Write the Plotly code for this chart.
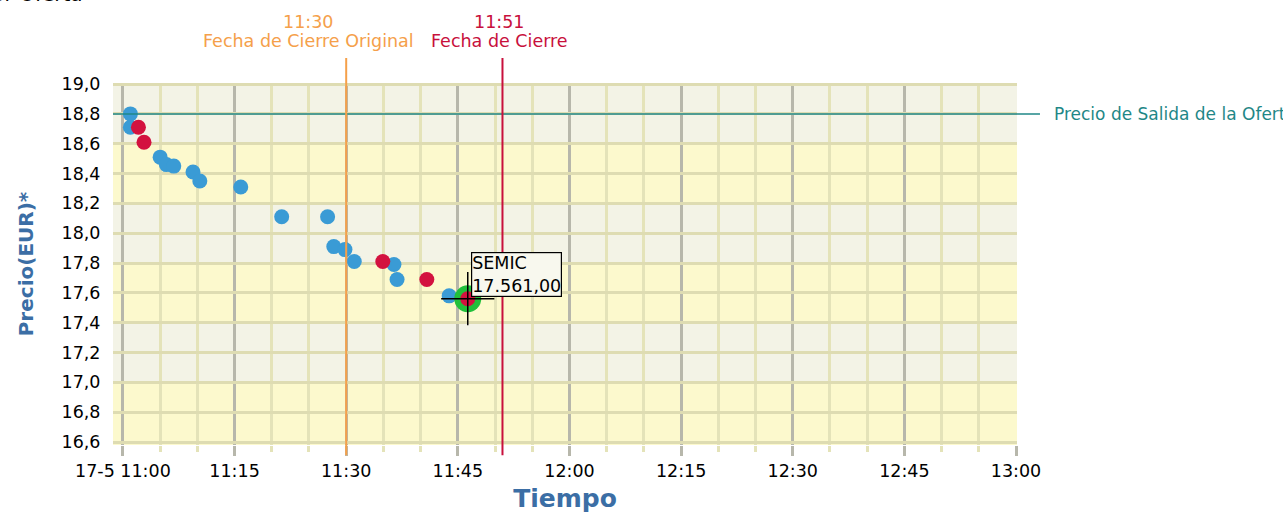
import plotly.graph_objects as go

DATE = "2011-05-17"


def t(s):
    return f"{DATE} {s}"


# ---------------- data ----------------
blue_times = ["11:01:00", "11:01:00", "11:05:00", "11:05:50", "11:06:50", "11:09:25",
              "11:10:20", "11:15:50", "11:21:20", "11:27:30", "11:28:20", "11:29:50",
              "11:31:05", "11:36:25", "11:36:50", "11:43:50"]
blue_prices = [18.80, 18.71, 18.51, 18.46, 18.45, 18.41, 18.35, 18.31, 18.11, 18.11,
               17.91, 17.89, 17.81, 17.79, 17.69, 17.58]

red_times = ["11:02:05", "11:02:50", "11:34:55", "11:40:50"]
red_prices = [18.71, 18.61, 17.81, 17.69]

highlight_time = "11:46:20"
highlight_price = 17.561
highlight_name = "SEMIC"
highlight_value_text = "17.561,00"

start_price = 18.8
start_price_label = "Precio de Salida de la Oferta"

orig_close_time = "11:30"
orig_close_label = "Fecha de Cierre Original"
close_time = "11:51"
close_label = "Fecha de Cierre"

x_tick_times = ["11:00", "11:15", "11:30", "11:45", "12:00", "12:15", "12:30", "12:45", "13:00"]
x_tick_text = ["17-5 11:00", "11:15", "11:30", "11:45", "12:00", "12:15", "12:30", "12:45", "13:00"]
y_ticks = [16.6, 16.8, 17.0, 17.2, 17.4, 17.6, 17.8, 18.0, 18.2, 18.4, 18.6, 18.8, 19.0]
yellow_bands = [(18.2, 18.6), (17.4, 17.8), (16.5, 17.0)]

# ---------------- styles ----------------
FONT = "DejaVu Sans"
BLUE = "#3a9bd5"
RED = "#d3123f"
ORANGE = "#f5a04a"
CRIMSON = "#c8103c"
TEAL = "#1f8787"
TITLE_BLUE = "#3b6ea5"
BG_LIGHT = "#f3f3e6"
BG_YELLOW = "#fcf9cd"
FS = 17.5

fig = go.Figure()

fig.add_trace(go.Scatter(
    x=[t(s) for s in blue_times], y=blue_prices, mode="markers",
    marker=dict(size=15, color=BLUE), showlegend=False, hoverinfo="skip"))
fig.add_trace(go.Scatter(
    x=[t(s) for s in red_times], y=red_prices, mode="markers",
    marker=dict(size=15, color=RED), showlegend=False, hoverinfo="skip"))
fig.add_trace(go.Scatter(
    x=[t(highlight_time)], y=[highlight_price], mode="markers",
    marker=dict(size=27, color="#21c03a"), showlegend=False, hoverinfo="skip"))
fig.add_trace(go.Scatter(
    x=[t(highlight_time)], y=[highlight_price], mode="markers",
    marker=dict(size=15, color=RED), showlegend=False, hoverinfo="skip"))
fig.add_trace(go.Scatter(
    x=[t(highlight_time)], y=[highlight_price], mode="markers",
    marker=dict(size=38, symbol="cross-thin", line=dict(color="black", width=1.5)),
    showlegend=False, hoverinfo="skip"))

# background bands
for y0, y1 in yellow_bands:
    fig.add_shape(type="rect", xref="paper", x0=0, x1=1, y0=y0, y1=y1,
                  fillcolor=BG_YELLOW, line_width=0, layer="below")

# start price line
fig.add_shape(type="line", xref="paper", x0=0, x1=1.0254, y0=start_price, y1=start_price,
              line=dict(color=TEAL, width=1.5), layer="above")
fig.add_annotation(xref="paper", x=1.0387, y=start_price, text=start_price_label,
                   showarrow=False, xanchor="left", yanchor="middle",
                   font=dict(family=FONT, size=17, color=TEAL))

# event lines
for tm, col in [(orig_close_time, ORANGE), (close_time, CRIMSON)]:
    fig.add_shape(type="line", x0=t(tm), x1=t(tm), yref="paper", y0=-0.028, y1=1.069,
                  line=dict(color=col, width=2), layer="above")

for tm, lab, col, dx in [(orig_close_time, orig_close_label, ORANGE, -38),
                         (close_time, close_label, CRIMSON, -3)]:
    fig.add_annotation(x=t(tm), xshift=dx, yref="paper", y=1.1685, text=tm,
                       showarrow=False, xanchor="center", yanchor="middle",
                       font=dict(family=FONT, size=FS, color=col))
    fig.add_annotation(x=t(tm), xshift=dx, yref="paper", y=1.116, text=lab,
                       showarrow=False, xanchor="center", yanchor="middle",
                       font=dict(family=FONT, size=FS, color=col))

# tooltip
fig.add_annotation(x=t(highlight_time), y=highlight_price, xshift=3, yshift=2,
                   text=f"{highlight_name}<br>{highlight_value_text}", showarrow=False,
                   xanchor="left", yanchor="bottom", align="left",
                   bgcolor="#f8f8ee", bordercolor="black", borderwidth=1.2, borderpad=0,
                   font=dict(family=FONT, size=FS, color="black"))

# chart title at the top-left (cut off at the page edge, as in the original)
fig.add_annotation(xref="paper", yref="paper", x=-0.031, y=1.246,
                   text="Evolución del Precio por Oferta", showarrow=False,
                   xanchor="right", yanchor="middle",
                   font=dict(family=FONT, size=20, color="black"))

fig.update_layout(
    width=1283, height=513,
    margin=dict(l=113, r=266, t=83, b=68),
    paper_bgcolor="white", plot_bgcolor=BG_LIGHT,
    separators=",.",
    font=dict(family=FONT, size=FS, color="black"),
    xaxis=dict(
        type="date", automargin=False,
        range=[t("10:58:40"), t("13:00:08")],
        tickmode="array", tickvals=[t(s) for s in x_tick_times], ticktext=x_tick_text,
        showgrid=True, gridcolor="#b7b7ab", gridwidth=3,
        ticks="outside", ticklen=10, tickwidth=3, tickcolor="#b7b7ab",
        minor=dict(tickmode="linear", tick0=t("11:00"), dtick=5 * 60 * 1000,
                   showgrid=True, gridcolor="#e4e3b9", gridwidth=3,
                   ticks="outside", ticklen=6, tickwidth=3, tickcolor="#e4e3b9"),
        showline=False, zeroline=False,
        tickfont=dict(family=FONT, size=FS, color="black"),
        title=dict(text="<b>Tiempo</b>", standoff=10,
                   font=dict(family=FONT, size=25, color=TITLE_BLUE)),
    ),
    yaxis=dict(
        automargin=False,
        range=[16.58, 19.007],
        tickmode="array", tickvals=y_ticks, tickformat=".1f",
        showgrid=True, gridcolor="#dedcb2", gridwidth=3,
        ticks="outside", ticklen=8, tickcolor="rgba(0,0,0,0)",
        showline=False, zeroline=False,
        tickfont=dict(family=FONT, size=FS, color="black"),
        title=dict(text="<b>Precio(EUR)*</b>", standoff=22,
                   font=dict(family=FONT, size=20, color=TITLE_BLUE)),
    ),
)

fig.write_html("out.html", config={"displayModeBar": False},
               post_script="document.body.style.margin='0';")
